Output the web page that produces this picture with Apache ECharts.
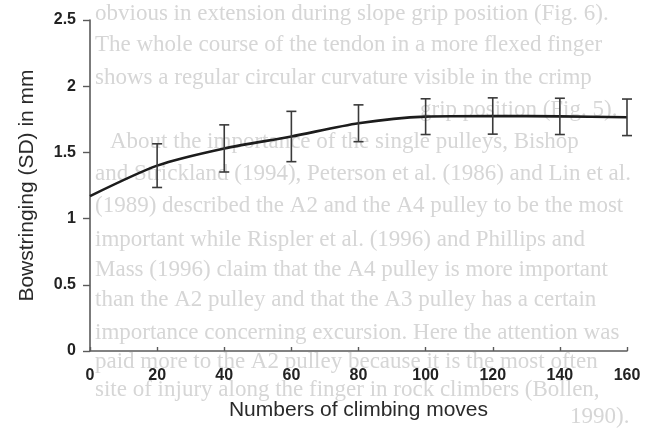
<!DOCTYPE html>
<html>
<head>
<meta charset="utf-8">
<script src="https://cdn.jsdelivr.net/npm/echarts@6/dist/echarts.min.js"></script>
<style>
  html, body { margin: 0; padding: 0; background: #ffffff; }
  #chart { width: 658px; height: 428px; }
</style>
</head>
<body>
<div id="chart"></div>
<script>
// ---- data ----
var climbingMoves = [0, 20, 40, 60, 80, 100, 120, 140, 160];
var bowstringMean = [1.17, 1.40, 1.53, 1.62, 1.72, 1.77, 1.775, 1.772, 1.765];
var bowstringSD   = [null, 0.165, 0.178, 0.19, 0.139, 0.135, 0.137, 0.137, 0.138];
var yTicks = [0, 0.5, 1, 1.5, 2, 2.5];
var xTicks = [0, 20, 40, 60, 80, 100, 120, 140, 160];

// faint scanned page text behind the figure
var bgLines = [
  "obvious in extension during slope grip position (Fig. 6).",
  "The whole course of the tendon in a more flexed finger",
  "shows a regular circular curvature visible in the crimp",
  "grip position (Fig. 5).",
  "About the importance of the single pulleys, Bishop",
  "and Strickland (1994), Peterson et al. (1986) and Lin et al.",
  "(1989) described the A2 and the A4 pulley to be the most",
  "important while Rispler et al. (1996) and Phillips and",
  "Mass (1996) claim that the A4 pulley is more important",
  "than the A2 pulley and that the A3 pulley has a certain",
  "importance concerning excursion. Here the attention was",
  "paid more to the A2 pulley because it is the most often",
  "site of injury along the finger in rock climbers (Bollen,",
  "1990)."
];
var bgLayout = [
  [95, 14], [95, 45], [95, 78], [420, 110], [110, 142], [95, 174], [95, 206],
  [95, 240], [95, 270], [95, 300], [95, 333], [95, 362], [95, 390], [570, 417]
];

var tickFont = '"Liberation Sans", Arial, sans-serif';
var labelFont = '"Liberation Sans", Arial, sans-serif';

var chart = echarts.init(document.getElementById('chart'), null, { renderer: 'canvas' });

var graphics = bgLines.map(function (t, i) {
  return {
    type: 'text',
    x: bgLayout[i][0],
    y: bgLayout[i][1],
    z: -10,
    silent: true,
    style: {
      text: t,
      fill: '#d6d6d6',
      font: '23px "Liberation Serif", "DejaVu Serif", serif',
      verticalAlign: 'middle'
    }
  };
});

var lineData = climbingMoves.map(function (x, i) { return [x, bowstringMean[i]]; });
var errData = [];
climbingMoves.forEach(function (x, i) {
  if (bowstringSD[i] != null) {
    errData.push([x, bowstringMean[i] - bowstringSD[i], bowstringMean[i] + bowstringSD[i]]);
  }
});

var option = {
  animation: false,
  backgroundColor: '#ffffff',
  graphic: graphics,
  grid: { left: 90, right: 31, top: 20, bottom: 77, containLabel: false },
  xAxis: {
    type: 'value',
    min: xTicks[0],
    max: xTicks[xTicks.length - 1],
    interval: 20,
    name: 'Numbers of climbing moves',
    nameLocation: 'middle',
    nameGap: 49,
    nameTextStyle: { fontFamily: labelFont, fontSize: 21, color: '#2a2a2a' },
    axisLine: { show: true, lineStyle: { color: '#5a5a5a', width: 1.6 } },
    axisTick: { show: true, inside: true, length: 4, lineStyle: { color: '#5a5a5a', width: 1.4 } },
    axisLabel: { fontFamily: tickFont, fontWeight: 'bold', fontSize: 16, color: '#222', margin: 17 },
    splitLine: { show: false }
  },
  yAxis: {
    type: 'value',
    min: yTicks[0],
    max: yTicks[yTicks.length - 1],
    interval: 0.5,
    name: 'Bowstringing (SD) in mm',
    nameLocation: 'middle',
    nameRotate: 90,
    nameGap: 52,
    nameTextStyle: { fontFamily: labelFont, fontSize: 21, color: '#2a2a2a' },
    axisLine: { show: true, lineStyle: { color: '#5a5a5a', width: 1.6 } },
    axisTick: { show: true, inside: false, length: 7, lineStyle: { color: '#5a5a5a', width: 1.4 } },
    axisLabel: { fontFamily: tickFont, fontWeight: 'bold', fontSize: 16, color: '#222', margin: 14 },
    splitLine: { show: false }
  },
  series: [
    {
      type: 'line',
      data: lineData,
      smooth: 0.25,
      symbol: 'none',
      lineStyle: { color: '#1c1c1c', width: 2.6 },
      z: 3
    },
    {
      type: 'custom',
      data: errData,
      z: 4,
      renderItem: function (params, api) {
        var x = api.value(0);
        var lo = api.coord([x, api.value(1)]);
        var hi = api.coord([x, api.value(2)]);
        var hw = 5;
        var st = { stroke: '#3a3a3a', lineWidth: 1.6 };
        return {
          type: 'group',
          children: [
            { type: 'line', shape: { x1: lo[0], y1: lo[1], x2: hi[0], y2: hi[1] }, style: st },
            { type: 'line', shape: { x1: lo[0] - hw, y1: lo[1], x2: lo[0] + hw, y2: lo[1] }, style: st },
            { type: 'line', shape: { x1: hi[0] - hw, y1: hi[1], x2: hi[0] + hw, y2: hi[1] }, style: st }
          ]
        };
      }
    }
  ]
};
chart.setOption(option);
</script>
</body>
</html>
